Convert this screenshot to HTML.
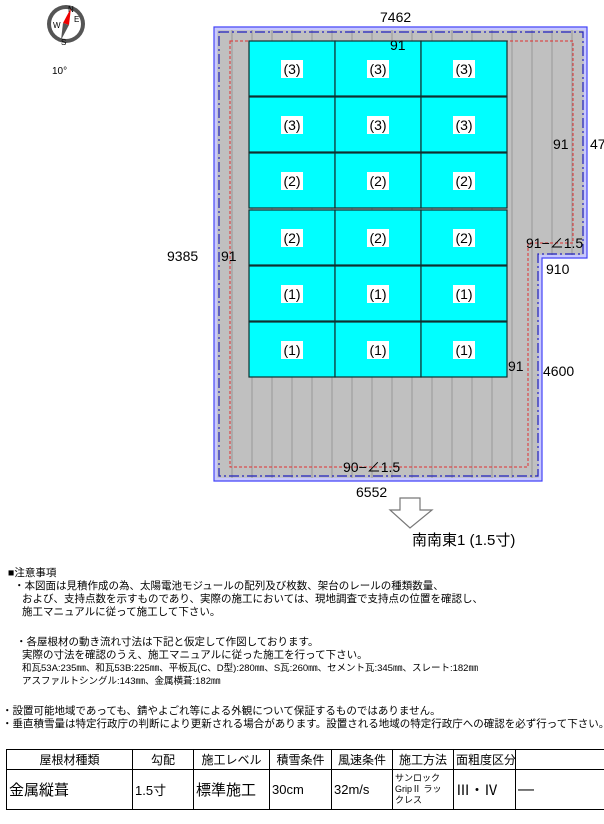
<!DOCTYPE html>
<html><head><meta charset="utf-8"><style>
body{margin:0;width:604px;height:824px;background:#fff;overflow:hidden;position:relative;font-family:"Liberation Sans","Noto Sans CJK JP",sans-serif}
.n{position:absolute;font-size:10.5px;line-height:13px;white-space:nowrap;color:#000}
table{position:absolute;left:6px;top:749px;border-collapse:collapse;font-family:"Liberation Sans","Noto Sans CJK JP",sans-serif;table-layout:fixed;width:659px}
td{border:1px solid #000;padding:0 2px;white-space:nowrap;overflow:hidden;box-sizing:border-box}
</style></head><body>
<svg width="604" height="560" style="position:absolute;left:0;top:0" font-family="Liberation Sans, Noto Sans CJK JP, sans-serif">
<circle cx="66" cy="24" r="19" fill="#555"/><circle cx="66" cy="24" r="15" fill="#fff"/>
<polygon points="71,8 63,23 69,25" fill="#e00"/><polygon points="61,40 63,23 69,25" fill="#555"/>
<text x="53" y="28" font-size="8">W</text><text x="74" y="22" font-size="8">E</text><text x="61" y="45" font-size="8">S</text><text x="68" y="12" font-size="8">N</text>
<text x="52" y="74" font-size="10">10°</text>
<path d="M214,27H587V258H542V481H214Z" fill="#c0c0c0" stroke="#4040ff" stroke-width="1.2"/>
<path d="M216,29H585V256H540V479H216Z" fill="none" stroke="#c8c8ff" stroke-width="2.5"/>
<g stroke="#999" stroke-width="1">
<line x1="252" y1="30" x2="252" y2="478"/><line x1="272" y1="30" x2="272" y2="478"/><line x1="292" y1="30" x2="292" y2="478"/><line x1="312" y1="30" x2="312" y2="478"/><line x1="332" y1="30" x2="332" y2="478"/><line x1="352" y1="30" x2="352" y2="478"/><line x1="372" y1="30" x2="372" y2="478"/><line x1="392" y1="30" x2="392" y2="478"/><line x1="412" y1="30" x2="412" y2="478"/><line x1="432" y1="30" x2="432" y2="478"/><line x1="452" y1="30" x2="452" y2="478"/><line x1="472" y1="30" x2="472" y2="478"/><line x1="492" y1="30" x2="492" y2="478"/><line x1="512" y1="30" x2="512" y2="478"/><line x1="532" y1="30" x2="532" y2="478"/><line x1="552" y1="30" x2="552" y2="255"/><line x1="572" y1="30" x2="572" y2="255"/><line x1="232" y1="30" x2="232" y2="478"/>
</g>
<path d="M219,32H583V254H538V476H219Z" fill="none" stroke="#2020c0" stroke-width="1.2" stroke-dasharray="10,3,2,3"/>
<path d="M230,41H573V243H528V467H230Z" fill="none" stroke="#e03030" stroke-width="1" stroke-dasharray="3,2"/>
<g fill="#00ffff" stroke="#103030" stroke-width="1.2">
<rect x="249" y="41" width="86" height="55"/><rect x="335" y="41" width="86" height="55"/><rect x="421" y="41" width="86" height="55"/>
<rect x="249" y="97" width="86" height="55"/><rect x="335" y="97" width="86" height="55"/><rect x="421" y="97" width="86" height="55"/>
<rect x="249" y="153" width="86" height="55"/><rect x="335" y="153" width="86" height="55"/><rect x="421" y="153" width="86" height="55"/>
<rect x="249" y="210" width="86" height="55"/><rect x="335" y="210" width="86" height="55"/><rect x="421" y="210" width="86" height="55"/>
<rect x="249" y="266" width="86" height="55"/><rect x="335" y="266" width="86" height="55"/><rect x="421" y="266" width="86" height="55"/>
<rect x="249" y="322" width="86" height="55"/><rect x="335" y="322" width="86" height="55"/><rect x="421" y="322" width="86" height="55"/>
</g>
<g font-size="14" text-anchor="middle">
<g fill="#fff"><rect x="281" y="60" width="22" height="18"/><rect x="367" y="60" width="22" height="18"/><rect x="453" y="60" width="22" height="18"/>
<rect x="281" y="116" width="22" height="18"/><rect x="367" y="116" width="22" height="18"/><rect x="453" y="116" width="22" height="18"/>
<rect x="281" y="172" width="22" height="18"/><rect x="367" y="172" width="22" height="18"/><rect x="453" y="172" width="22" height="18"/>
<rect x="281" y="229" width="22" height="18"/><rect x="367" y="229" width="22" height="18"/><rect x="453" y="229" width="22" height="18"/>
<rect x="281" y="285" width="22" height="18"/><rect x="367" y="285" width="22" height="18"/><rect x="453" y="285" width="22" height="18"/>
<rect x="281" y="341" width="22" height="18"/><rect x="367" y="341" width="22" height="18"/><rect x="453" y="341" width="22" height="18"/></g>
<text x="292" y="74">(3)</text><text x="378" y="74">(3)</text><text x="464" y="74">(3)</text>
<text x="292" y="130">(3)</text><text x="378" y="130">(3)</text><text x="464" y="130">(3)</text>
<text x="292" y="186">(2)</text><text x="378" y="186">(2)</text><text x="464" y="186">(2)</text>
<text x="292" y="243">(2)</text><text x="378" y="243">(2)</text><text x="464" y="243">(2)</text>
<text x="292" y="299">(1)</text><text x="378" y="299">(1)</text><text x="464" y="299">(1)</text>
<text x="292" y="355">(1)</text><text x="378" y="355">(1)</text><text x="464" y="355">(1)</text>
</g>
<g font-size="14" fill="#000">
<text x="380" y="22">7462</text>
<text x="390" y="50">91</text>
<text x="167" y="261">9385</text><text x="221" y="261">91</text>
<text x="553" y="149">91</text><text x="590" y="149">47</text>
<text x="526" y="248">91−∠1.5</text>
<text x="546" y="274">910</text>
<text x="508" y="371">91</text>
<text x="543" y="376">4600</text>
<text x="343" y="472">90−∠1.5</text>
<text x="356" y="497">6552</text>
<text x="412" y="545" font-size="15">南南東1 (1.5寸)</text>
</g>
<polygon points="400,498 420,498 420,510 432,510 410,528 390,510 400,510" fill="#fff" stroke="#777" stroke-width="1.2"/>
</svg>
<div class="n" style="left:8px;top:567px">■注意事項</div>
<div class="n" style="left:14px;top:580px">・本図面は見積作成の為、太陽電池モジュールの配列及び枚数、架台のレールの種類数量、</div>
<div class="n" style="left:22px;top:593px">および、支持点数を示すものであり、実際の施工においては、現地調査で支持点の位置を確認し、</div>
<div class="n" style="left:22px;top:606px">施工マニュアルに従って施工して下さい。</div>
<div class="n" style="left:16px;top:636px">・各屋根材の動き流れ寸法は下記と仮定して作図しております。</div>
<div class="n" style="left:22px;top:649px">実際の寸法を確認のうえ、施工マニュアルに従った施工を行って下さい。</div>
<div class="n" style="left:22px;top:662px;font-size:9.5px">和瓦53A:235㎜、和瓦53B:225㎜、平板瓦(C、D型):280㎜、S瓦:260㎜、セメント瓦:345㎜、スレート:182㎜</div>
<div class="n" style="left:22px;top:675px;font-size:9.5px">アスファルトシングル:143㎜、金属横葺:182㎜</div>
<div class="n" style="left:2px;top:705px">・設置可能地域であっても、錆やよごれ等による外観について保証するものではありません。</div>
<div class="n" style="left:2px;top:718px">・垂直積雪量は特定行政庁の判断により更新される場合があります。設置される地域の特定行政庁への確認を必ず行って下さい。</div>
<table>
<colgroup><col style="width:126px"><col style="width:61px"><col style="width:76px"><col style="width:62px"><col style="width:61px"><col style="width:61px"><col style="width:62px"><col style="width:150px"></colgroup>
<tr style="height:20px;font-size:12px;text-align:center"><td>屋根材種類</td><td>勾配</td><td>施工レベル</td><td>積雪条件</td><td>風速条件</td><td>施工方法</td><td>面粗度区分</td><td></td></tr>
<tr style="height:40px"><td style="font-size:15px">金属縦葺</td><td style="font-size:13px">1.5寸</td><td style="font-size:15px">標準施工</td><td style="font-size:13px">30cm</td><td style="font-size:13px">32m/s</td><td style="font-size:9px;line-height:11px;white-space:normal">サンロック<br>GripⅡ ラッ<br>クレス</td><td style="font-size:14px">Ⅲ・Ⅳ</td><td>—</td></tr>
</table>
</body></html>
